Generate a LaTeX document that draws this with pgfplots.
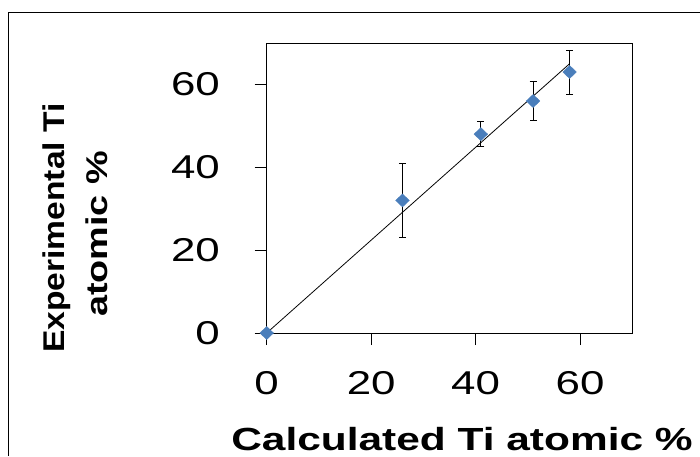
\documentclass[border=0pt]{standalone}
\usepackage{graphicx}
\usepackage{pgfplots}
\pgfplotsset{compat=1.18}
\usepackage{fontspec}
\setmainfont{Liberation Sans}
\definecolor{mkblue}{HTML}{4A7EBB}
\begin{document}
\begin{tikzpicture}
\useasboundingbox (0,0) rectangle (700pt,456pt);
\draw[line width=1pt] (8.5pt,0) -- (8.5pt,443pt) -- (700pt,443pt);
\begin{axis}[
  at={(266.7pt,123pt)}, anchor=south west,
  scale only axis, width=365.6pt, height=290pt,
  xmin=0,xmax=70,ymin=0,ymax=70,
  xtick={0,20,40,60}, ytick={0,20,40,60},
  tick align=outside, major tick length=12pt,
  xtick pos=bottom, ytick pos=left,
  axis line style={line width=1pt},
  tick style={black, line width=1pt},
  /pgf/number format/assume math mode=true,
  yticklabel style={font=\fontsize{33}{36}\selectfont, inner sep=0pt, anchor=east, xscale=1.33, xshift=-26pt},
  xticklabel style={font=\fontsize{33}{36}\selectfont, inner sep=0pt, anchor=north, xscale=1.33, yshift=-26pt},
  clip=false,
]
\addplot[black, line width=0.8pt] coordinates {(0,0) (58,65)};
\addplot[only marks, mark=diamond*, mark size=6.5pt, mark options={mkblue, xscale=1.4},
  error bars/.cd, y dir=both, y explicit,
  error bar style={black, line width=0.9pt},
  error mark options={black, mark size=3.5pt, line width=0.9pt, rotate=90}]
  table[x=x,y=y,y error=e]{
x y e
0 0 0
26 32 9
41 48 3
51 56 4.8
58 63 5.3
};
\end{axis}
\node[rotate=90, anchor=base, font=\bfseries\fontsize{30}{36}\selectfont] at (64pt,228pt) {\scalebox{1.12}[1]{Experimental Ti}};
\node[rotate=90, anchor=base, font=\bfseries\fontsize{30}{36}\selectfont] at (107pt,222pt) {\scalebox{1.26}[1]{atomic \%}};
\node[anchor=base, font=\bfseries\fontsize{32}{38}\selectfont] at (462pt,6pt) {\scalebox{1.326}[1]{Calculated Ti atomic \%}};
\end{tikzpicture}
\end{document}
